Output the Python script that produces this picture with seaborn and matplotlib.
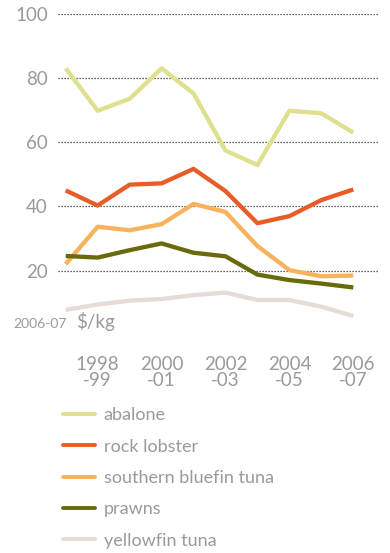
import matplotlib
matplotlib.use("Agg")
import matplotlib.pyplot as plt
from matplotlib.lines import Line2D
import seaborn as sns
import pandas as pd

# Seafood unit prices, 1997-98 to 2006-07 (2006-07 $/kg)
years = ["1997-98", "1998-99", "1999-00", "2000-01", "2001-02",
         "2002-03", "2003-04", "2004-05", "2005-06", "2006-07"]
abalone = [83.0, 69.8, 73.5, 83.0, 75.2, 57.4, 52.9, 69.8, 69.0, 63.0]
rock_lobster = [45.0, 40.3, 46.8, 47.2, 51.7, 44.8, 34.8, 37.0, 42.0, 45.3]
southern_bluefin_tuna = [22.1, 33.7, 32.6, 34.5, 40.8, 38.3, 27.7, 20.2, 18.3, 18.5]
prawns = [24.6, 24.1, 26.4, 28.5, 25.6, 24.5, 18.8, 17.1, 16.0, 14.8]
yellowfin_tuna = [7.8, 9.5, 10.7, 11.2, 12.4, 13.2, 10.9, 10.9, 8.8, 5.9]

species = ["abalone", "rock lobster", "southern bluefin tuna", "prawns", "yellowfin tuna"]
colours = ["#dfe08e", "#e85c27", "#f8b25c", "#6a690b", "#e5dcd7"]
tick_labels = ["1998\n-99", "2000\n-01", "2002\n-03", "2004\n-05", "2006\n-07"]

series = [abalone, rock_lobster, southern_bluefin_tuna, prawns, yellowfin_tuna]
rows = []
for name, vals in zip(species, series):
    for i, (yr, v) in enumerate(zip(years, vals)):
        rows.append({"idx": i, "year": yr, "species": name, "price": v})
df = pd.DataFrame(rows)

sns.set_theme(style="white")
plt.rcParams["font.family"] = ["Lato", "DejaVu Sans"]
grey = "#9a9a9a"

fig = plt.figure(figsize=(3.9, 5.53), dpi=100)
ax = fig.add_axes([0.148, 0.3942, 0.821, 0.581])

sns.lineplot(data=df, x="idx", y="price", hue="species", hue_order=species,
             palette=colours, linewidth=3.1, legend=False, ax=ax,
             solid_capstyle="butt")

ax.set_xlim(-0.25, 9.77)
ax.set_ylim(0, 100)
for s in ax.spines.values():
    s.set_visible(False)

ax.set_yticks([20, 40, 60, 80, 100])
ax.yaxis.grid(True, linestyle=(0, (1, 1.4)), color="#333333", linewidth=0.9)
ax.xaxis.grid(False)
ax.tick_params(axis="y", length=0, pad=7, labelsize=13.5, labelcolor=grey)

ax.set_xticks([1, 3, 5, 7, 9])
ax.set_xticklabels(tick_labels)
ax.set_xticks([0, 2, 4, 6, 8], minor=True)
ax.tick_params(axis="x", which="major", direction="inout", length=4.5,
               width=0.8, color="#aaaaaa", pad=13, labelsize=13.5,
               labelcolor=grey)
ax.tick_params(axis="x", which="minor", direction="inout", length=1.6,
               width=1.6, color="#b5b5b5")
for t in ax.get_xticklabels():
    t.set_linespacing(0.95)
ax.set_xlabel("")
ax.set_ylabel("")

# unit label above the time axis
fig.text(13 / 390, 1 - 328 / 553, "2006-07", fontsize=10, color=grey,
         va="baseline", ha="left")
fig.text(76 / 390, 1 - 328 / 553, "$/kg", fontsize=13.5, color=grey,
         va="baseline", ha="left")

handles = [Line2D([0], [0], color=c, linewidth=2.8) for c in colours]
leg = fig.legend(handles, species, loc="upper left",
                 bbox_to_anchor=(47 / 390, 1 - 391 / 553), frameon=False,
                 fontsize=13, handlelength=1.75, handletextpad=0.5,
                 labelspacing=0.85, labelcolor=grey)

fig.savefig("out.png", dpi=100)
